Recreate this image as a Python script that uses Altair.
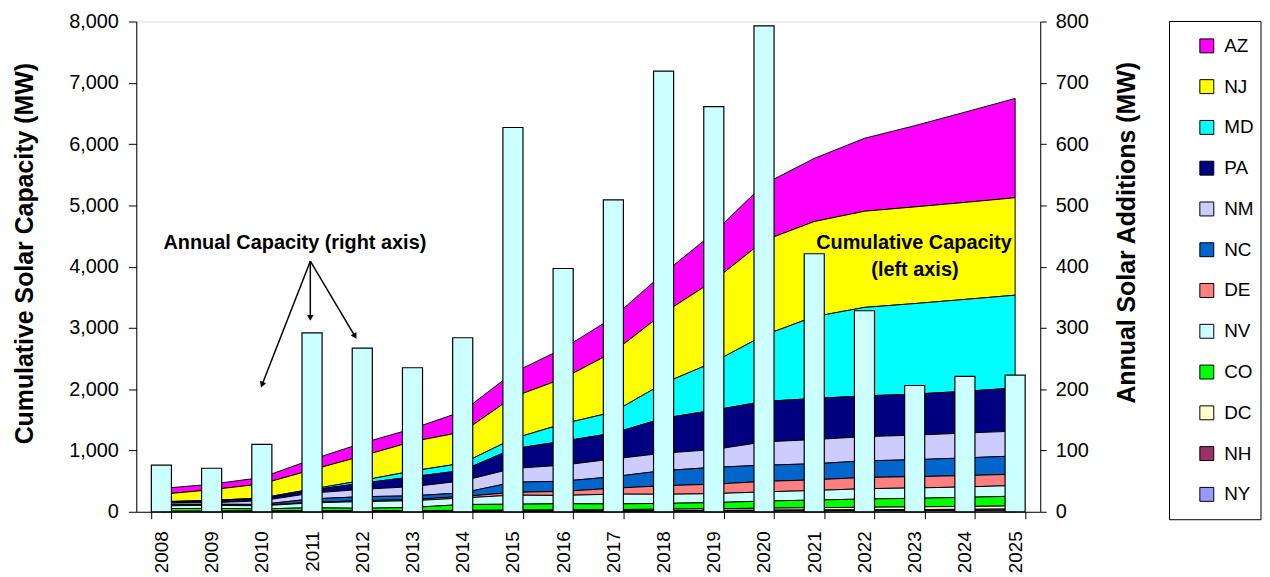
import math
import altair as alt
import pandas as pd

# ---------------- data ----------------
years = [str(y) for y in range(2008, 2026)]
states = ["AZ", "NJ", "MD", "PA", "NM", "NC", "DE", "NV", "CO", "DC", "NH", "NY"]
state_colors = ["#FF00FF", "#FFFF00", "#00FFFF", "#000080", "#CCCCFF", "#0066CC",
                "#FF8080", "#CCFFFF", "#00FF00", "#FFFFCC", "#993366", "#9999FF"]

AZ = [95, 90, 105, 168, 209, 210, 337, 395, 487, 565, 650, 780, 920, 1030, 1190, 1325, 1473, 1620]
NJ = [120, 175, 230, 315, 400, 480, 510, 680, 740, 980, 1145, 1330, 1545, 1552, 1569, 1578, 1583, 1590]
MD = [5, 8, 10, 15, 45, 95, 117, 165, 285, 345, 570, 785, 1080, 1336, 1444, 1477, 1499, 1515]
PA = [20, 30, 35, 50, 100, 160, 171, 320, 390, 420, 570, 642, 660, 670, 665, 670, 682, 703]
NM = [30, 25, 60, 95, 120, 150, 195, 225, 262, 290, 285, 290, 380, 395, 395, 401, 405, 406]
NC = [8, 10, 15, 55, 65, 60, 60, 165, 165, 189, 246, 275, 265, 262, 271, 276, 289, 297]
DE = [5, 7, 8, 10, 15, 20, 25, 45, 68, 95, 140, 155, 170, 175, 183, 185, 185, 185]
NV = [45, 50, 50, 80, 110, 110, 105, 148, 135, 160, 148, 146, 150, 155, 169, 168, 170, 173]
CO = [45, 45, 35, 50, 40, 50, 97, 97, 100, 92, 95, 100, 117, 125, 135, 140, 148, 160]
DC = [2, 3, 4, 5, 6, 8, 10, 12, 15, 18, 22, 26, 32, 36, 40, 44, 47, 50]
NH = [2, 3, 4, 5, 5, 6, 6, 7, 8, 9, 10, 11, 12, 14, 15, 16, 18, 20]
NY = [3, 4, 4, 5, 5, 6, 6, 7, 8, 9, 10, 12, 14, 16, 18, 20, 22, 25]
state_values = [AZ, NJ, MD, PA, NM, NC, DE, NV, CO, DC, NH, NY]

annual_additions = [76, 71, 110, 292, 267, 235, 284, 627, 397, 509, 719, 661, 793, 421, 328, 206, 221, 223]

# ---------------- tables ----------------
rows = []
for i, (s, vals) in enumerate(zip(states, state_values)):
    for y, v in zip(years, vals):
        rows.append({"year": y, "state": s, "mw": v, "stack": len(states) - i})
cum_df = pd.DataFrame(rows)
bar_df = pd.DataFrame({"year": years, "add": annual_additions})

FONT = "Liberation Sans"
W, H = 909, 493

x_scale = alt.Scale(paddingInner=0.6, paddingOuter=0.3)
x_axis = alt.Axis(title=None, labelAngle=270, labelAlign="right", labelBaseline="middle",
                  labelFontSize=19, labelFont=FONT, labelColor="black", tickBand="extent",
                  tickSize=7, labelPadding=12, domainColor="black", tickColor="black",
                  grid=False, labelOverlap=False)

area = alt.Chart(cum_df).mark_area(stroke="black", strokeWidth=1, opacity=1).encode(
    x=alt.X("year:O", bandPosition=0.5, scale=x_scale, axis=x_axis),
    y=alt.Y("mw:Q", stack="zero",
            scale=alt.Scale(domain=[0, 8000], nice=False),
            axis=alt.Axis(values=list(range(0, 8001, 1000)), format=",d",
                          labelFontSize=20, labelFont=FONT, labelColor="black",
                          tickSize=8, labelPadding=10, domainColor="black", tickColor="black",
                          grid=False, title="Cumulative Solar Capacity (MW)",
                          titleFontSize=25, titleFont=FONT, titleFontWeight="bold",
                          titleColor="black", titleAngle=270, titleBaseline="bottom",
                          titleX=-99, titleY=233)),
    color=alt.Color("state:N", scale=alt.Scale(domain=states, range=state_colors),
                    legend=alt.Legend(title=None, orient="none", legendX=1067, legendY=15,
                                      symbolType="square", symbolSize=196,
                                      symbolStrokeColor="black", symbolStrokeWidth=1,
                                      labelFontSize=19, labelFont=FONT, labelColor="black",
                                      rowPadding=21, padding=0, labelOffset=8)),
    order=alt.Order("stack:Q"),
)

bars = alt.Chart(bar_df).mark_bar(fill="#CCFFFF", stroke="black", strokeWidth=1.2).encode(
    x=alt.X("year:O", scale=x_scale, axis=x_axis),
    y=alt.Y("add:Q", scale=alt.Scale(domain=[0, 800], nice=False),
            axis=alt.Axis(orient="right", values=list(range(0, 801, 100)),
                          labelFontSize=20, labelFont=FONT, labelColor="black",
                          tickSize=6, labelPadding=9, domainColor="black", tickColor="black",
                          grid=False, title="Annual Solar Additions (MW)",
                          titleFontSize=25, titleFont=FONT, titleFontWeight="bold",
                          titleColor="black", titleAngle=270, titleBaseline="top",
                          titleX=75, titleY=212)),
)

# ---------------- annotations (pixel positions in plot area) ----------------
one = alt.Data(values=[{"a": 1}])
ann = []

texts = [
    ("Annual Capacity (right axis)", 159.5, 223),
    ("Cumulative Capacity", 782, 223),
    ("(left axis)", 783, 250),
]
for t, tx, ty in texts:
    ann.append(alt.Chart(one).mark_text(font=FONT, fontSize=20, fontWeight="bold",
                                        color="black", align="center", baseline="middle").encode(
        x=alt.value(tx), y=alt.value(ty), text=alt.value(t)))

ARROW_FROM = (175, 241)
ARROW_TO = [(125, 369), (175, 302), (222, 320)]
HEAD_BACK = 4
for ex, ey in ARROW_TO:
    dx, dy = ex - ARROW_FROM[0], ey - ARROW_FROM[1]
    n = math.hypot(dx, dy)
    ux, uy = dx / n, dy / n
    hx, hy = ex - HEAD_BACK * ux, ey - HEAD_BACK * uy
    ang = math.degrees(math.atan2(ux, -uy)) % 360
    ann.append(alt.Chart(one).mark_rule(color="black", strokeWidth=1.5).encode(
        x=alt.value(ARROW_FROM[0]), y=alt.value(ARROW_FROM[1]),
        x2=alt.value(hx), y2=alt.value(hy)))
    ann.append(alt.Chart(one).mark_point(shape="triangle-up", filled=True, color="black",
                                         size=45, opacity=1, angle=ang).encode(
        x=alt.value(hx), y=alt.value(hy)))

# legend frame
ann.append(alt.Chart(one).mark_rect(fill="white", fillOpacity=0, stroke="black",
                                    strokeWidth=1).encode(
    x=alt.value(1039), x2=alt.value(1131), y=alt.value(0), y2=alt.value(501)))

chart = alt.layer(area, bars, *ann).resolve_scale(y="independent").properties(
    width=W, height=H,
    padding={"left": 129, "top": 12, "right": 223, "bottom": 62},
    autosize=alt.AutoSizeParams(type="none"),
).configure_view(stroke="#808080").configure(font=FONT)

chart.save("out.html", embed_options={"renderer": "svg", "actions": False})
